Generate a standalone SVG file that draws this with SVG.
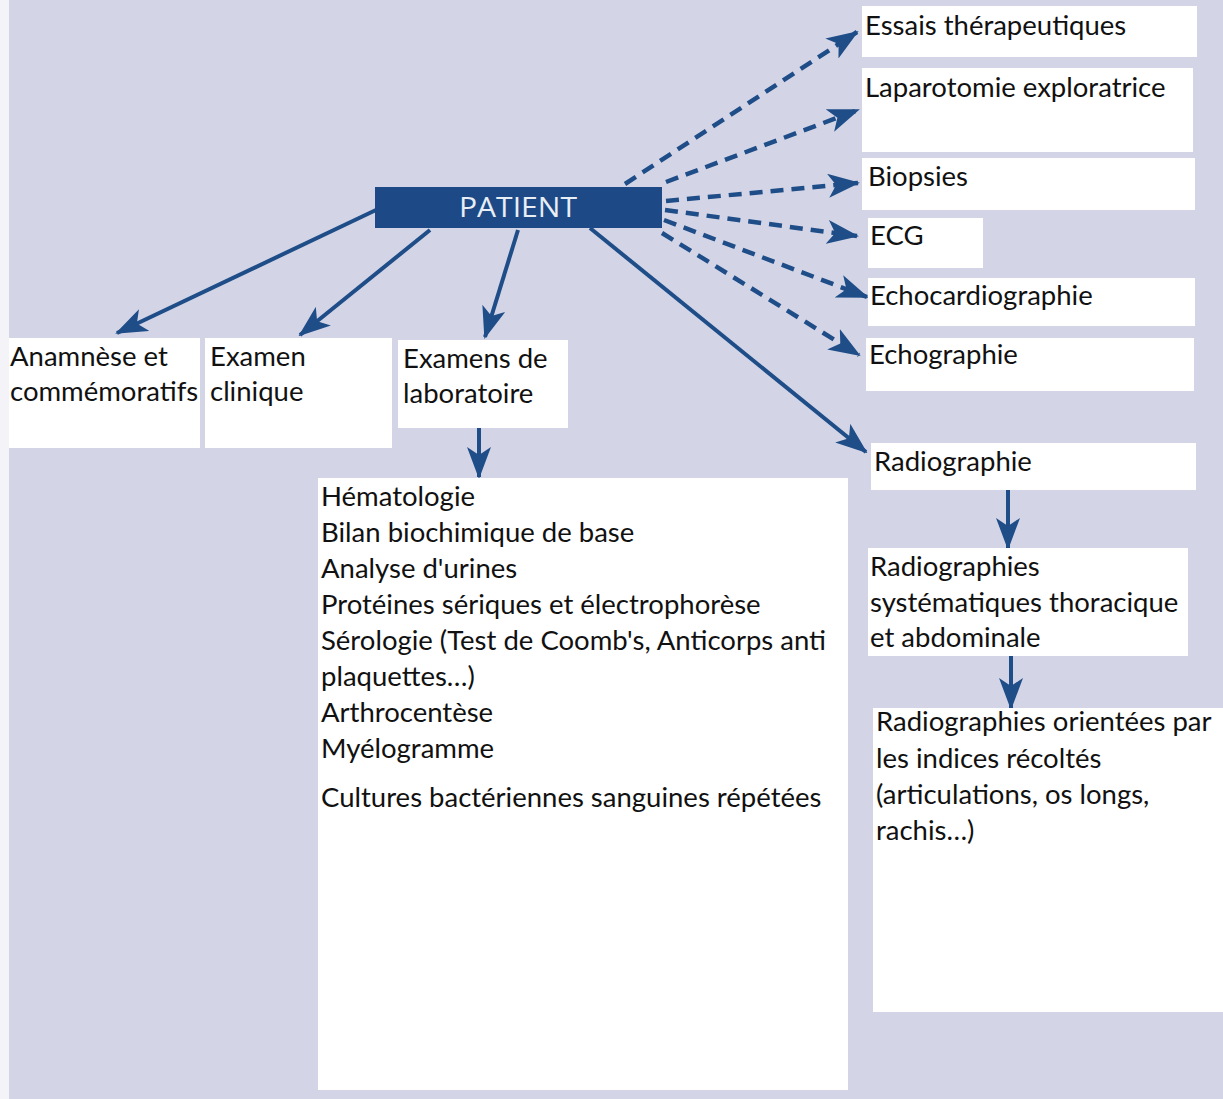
<svg xmlns="http://www.w3.org/2000/svg" width="1223" height="1099" viewBox="0 0 1223 1099">
<defs>
<style>
.bg{fill:#d3d5e7}
.box{fill:#ffffff}
.t{font-family:Lato,"Open Sans","Liberation Sans",sans-serif;font-size:27.5px;fill:#111}
.c{stroke:#1f4d88;stroke-width:4;fill:none}
.d{stroke:#1f4d88;stroke-width:4.5;fill:none;stroke-dasharray:13 8}
</style>
<marker id="ah" markerUnits="userSpaceOnUse" markerWidth="32" markerHeight="24" viewBox="0 0 32 24" refX="30" refY="12" orient="auto">
<path d="M0,0 L32,12 L0,24 L8,12 z" fill="#1f4d88"/>
</marker>
</defs>
<rect class="bg" x="0" y="0" width="1223" height="1099"/>
<rect x="0" y="0" width="9" height="1099" fill="#f4f4f8"/>

<g id="connectors">
<line class="c" x1="376" y1="210" x2="117" y2="333" marker-end="url(#ah)"/>
<line class="c" x1="430" y1="230" x2="300" y2="335" marker-end="url(#ah)"/>
<line class="c" x1="518" y1="230" x2="485" y2="337" marker-end="url(#ah)"/>
<line class="c" x1="590" y1="228" x2="866" y2="452" marker-end="url(#ah)"/>
<line class="c" x1="479" y1="428" x2="479" y2="477" marker-end="url(#ah)"/>
<line class="c" x1="1008" y1="490" x2="1008" y2="548" marker-end="url(#ah)"/>
<line class="c" x1="1011" y1="656" x2="1011" y2="708" marker-end="url(#ah)"/>
<line class="d" x1="625" y1="184" x2="857" y2="32" marker-end="url(#ah)"/>
<line class="d" x1="666" y1="182" x2="858" y2="110" marker-end="url(#ah)"/>
<line class="d" x1="666" y1="201" x2="858" y2="183" marker-end="url(#ah)"/>
<line class="d" x1="665" y1="210" x2="857" y2="236" marker-end="url(#ah)"/>
<line class="d" x1="664" y1="220" x2="867" y2="297" marker-end="url(#ah)"/>
<line class="d" x1="662" y1="233" x2="859" y2="355" marker-end="url(#ah)"/>
</g>

<g id="patient">
<rect x="375" y="187" width="287" height="41" fill="#1d4a86"/>
<text x="518" y="217" text-anchor="middle" font-family="'Open Sans','Noto Sans','Liberation Sans',sans-serif" font-size="28" fill="#e8eef5" textLength="118" lengthAdjust="spacingAndGlyphs">PATIENT</text>
</g>

<g id="anamnese">
<rect class="box" x="9" y="338" width="191" height="110"/>
<text class="t" x="10" y="366">Anamnèse et</text>
<text class="t" x="10" y="401">commémoratifs</text>
</g>
<g id="examen-clinique">
<rect class="box" x="205" y="338" width="187" height="110"/>
<text class="t" x="210" y="366">Examen</text>
<text class="t" x="210" y="401">clinique</text>
</g>
<g id="examens-labo">
<rect class="box" x="398" y="340" width="170" height="88"/>
<text class="t" x="403" y="368">Examens de</text>
<text class="t" x="403" y="403">laboratoire</text>
</g>
<g id="labo-liste">
<rect class="box" x="318" y="478" width="530" height="612"/>
<text class="t" x="321" y="506">Hématologie</text>
<text class="t" x="321" y="542">Bilan biochimique de base</text>
<text class="t" x="321" y="578">Analyse d'urines</text>
<text class="t" x="321" y="614">Protéines sériques et électrophorèse</text>
<text class="t" x="321" y="650">Sérologie (Test de Coomb's, Anticorps anti</text>
<text class="t" x="321" y="686">plaquettes…)</text>
<text class="t" x="321" y="722">Arthrocentèse</text>
<text class="t" x="321" y="758">Myélogramme</text>
<text class="t" x="321" y="807">Cultures bactériennes sanguines répétées</text>
</g>

<g id="essais">
<rect class="box" x="862" y="6" width="335" height="51"/>
<text class="t" x="865" y="35">Essais thérapeutiques</text>
</g>
<g id="laparotomie">
<rect class="box" x="862" y="68" width="331" height="84"/>
<text class="t" x="865" y="97">Laparotomie exploratrice</text>
</g>
<g id="biopsies">
<rect class="box" x="862" y="158" width="333" height="52"/>
<text class="t" x="868" y="186">Biopsies</text>
</g>
<g id="ecg">
<rect class="box" x="868" y="218" width="115" height="50"/>
<text class="t" x="870" y="245">ECG</text>
</g>
<g id="echocardiographie">
<rect class="box" x="868" y="278" width="327" height="48"/>
<text class="t" x="870" y="305">Echocardiographie</text>
</g>
<g id="echographie">
<rect class="box" x="866" y="338" width="328" height="53"/>
<text class="t" x="869" y="364">Echographie</text>
</g>
<g id="radiographie">
<rect class="box" x="871" y="443" width="325" height="47"/>
<text class="t" x="874" y="471">Radiographie</text>
</g>
<g id="radio-systematiques">
<rect class="box" x="868" y="548" width="320" height="108"/>
<text class="t" x="870" y="576">Radiographies</text>
<text class="t" x="870" y="612">systématiques thoracique</text>
<text class="t" x="870" y="647">et abdominale</text>
</g>
<g id="radio-orientees">
<rect class="box" x="873" y="708" width="350" height="304"/>
<text class="t" x="876" y="731">Radiographies orientées par</text>
<text class="t" x="876" y="768">les indices récoltés</text>
<text class="t" x="876" y="804">(articulations, os longs,</text>
<text class="t" x="876" y="840">rachis…)</text>
</g>
</svg>
